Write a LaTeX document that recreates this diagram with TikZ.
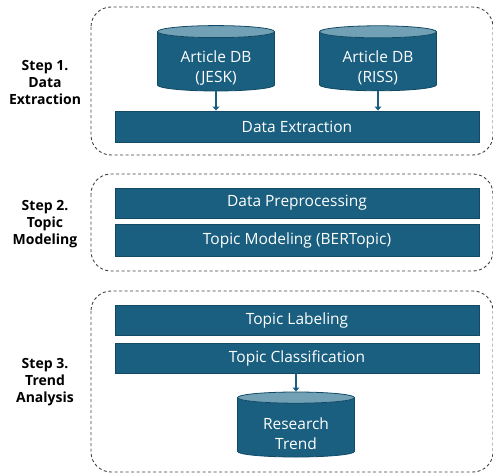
\documentclass[tikz,border=0pt]{standalone}
\usepackage{fontspec}
\setmainfont{Open Sans}
\usetikzlibrary{shapes.geometric,arrows.meta}

\definecolor{barblue}{HTML}{1A5F7F}
\definecolor{lineblue}{HTML}{124A66}
\definecolor{topblue}{HTML}{72A1B5}

% pushes a cylinder's text a little below its centre
\newcommand{\dropline}{\rule{0pt}{0pt}\\[4pt]}

\begin{document}
\begin{tikzpicture}[x=1pt,y=-1pt]

        \useasboundingbox (0,0) rectangle (493,474);

        % dashed step frames
        \begin{scope}[every path/.style={draw=black!75, line width=.9pt, dash pattern=on 3pt off 2.5pt, rounded corners=20pt}]
          \path (91,7)   rectangle (493,155);
          \path (91,174) rectangle (493,271);
          \path (91,291) rectangle (493,472);
        \end{scope}

        \begin{scope}[every node/.style={align=center, font=\bfseries\fontsize{14}{17}\selectfont}]
          \node (s1) at (45,82)  {Step 1.\\Data\\Extraction};
          \node (s2) at (45,224) {Step 2.\\Topic\\Modeling};
          \node (s3) at (45,382) {Step 3.\\Trend\\Analysis};
        \end{scope}

        \begin{scope}[every node/.style={cylinder, shape border rotate=90, draw=lineblue, line width=.8pt,
            cylinder uses custom fill, cylinder body fill=barblue, cylinder end fill=topblue,
            minimum width=117pt, minimum height=65pt, aspect=0.17, inner sep=0pt,
            text=white, align=center, font=\fontsize{15.5}{20}\selectfont}]
          \node (jesk)  at (216,61.5)  {\dropline Article DB\\(JESK)};
          \node (riss)  at (378,61.5)  {\dropline Article DB\\(RISS)};
          \node (trend) at (296,427.5) {\dropline Research\\Trend};
        \end{scope}

        \begin{scope}[every node/.style={draw=lineblue, fill=barblue, line width=.8pt, minimum width=364pt,
            inner sep=0pt, text=white, font=\fontsize{15.5}{17}\selectfont}]
          \node[minimum height=31pt] (extract)  at (297,126.5) {Data Extraction};
          \node[minimum height=30pt] (preproc)  at (297,203)   {Data Preprocessing};
          \node[minimum height=32pt] (modeling) at (297,240)   {Topic Modeling (BERTopic)};
          \node[minimum height=30pt] (labeling) at (297,320)   {Topic Labeling};
          \node[minimum height=30pt] (classify) at (297,358)   {Topic Classification};
        \end{scope}

        \begin{scope}[every path/.style={draw=barblue, line width=2.2pt, -{Triangle[width=6.5pt,length=4pt]}}]
          \path (jesk.bottom)   -- (jesk.bottom |- extract.north);
          \path (riss.bottom)   -- (riss.bottom |- extract.north);
          \path (classify.south -| trend.top) -- (trend.top);
        \end{scope}

      \end{tikzpicture}
\end{document}
